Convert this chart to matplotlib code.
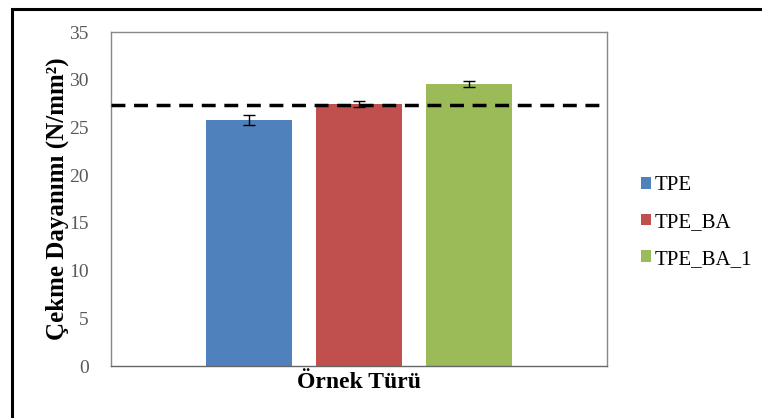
import numpy as np
import matplotlib.pyplot as plt
from matplotlib.patches import Rectangle

# === DATA ===
samples = ["TPE", "TPE_BA", "TPE_BA_1"]
strength = [25.8, 27.45, 29.55]
err = [0.55, 0.3, 0.3]
colors = ["#4f81bd", "#c0504d", "#9bbb59"]
ref_line = 27.4
yticks = [0, 5, 10, 15, 20, 25, 30, 35]

plt.rcParams["font.family"] = ["Liberation Serif", "DejaVu Serif"]

fig = plt.figure(figsize=(7.62, 4.18), dpi=100)
ax = fig.add_axes([0.1457, 0.1244, 0.651, 0.799])

x = np.arange(len(samples)) - 1
for xi, v, e, c, lab in zip(x, strength, err, colors, samples):
    ax.bar(xi, v, width=0.78, color=c, label=lab, zorder=2)
    ax.errorbar(xi, v, yerr=e, fmt="none", ecolor="black", elinewidth=1,
                capsize=4, capthick=1, zorder=3)

ax.axhline(ref_line, color="black", linestyle=(0, (4, 2.5)), linewidth=2.5, zorder=4)

ax.set_xlim(-2.255, 2.255)
ax.set_ylim(0, 35)
ax.set_yticks(yticks)
ax.set_xticks([])
ax.tick_params(axis="y", length=0, labelsize=14, labelcolor="#595959", pad=16)
for s in ax.spines.values():
    s.set_color("#888888")
    s.set_linewidth(1)
ax.spines["bottom"].set_color("#666666")

ax.set_ylabel("Çekme Dayanımı (N/mm²)", fontsize=18, fontweight="bold", labelpad=0)
ax.set_xlabel("Örnek Türü", fontsize=17, fontweight="bold", labelpad=4)

ax.legend(loc="center left", bbox_to_anchor=(1.03, 0.43), frameon=False,
          fontsize=15, handlelength=0.5, handleheight=0.5, handletextpad=0.15,
          labelspacing=0.85)

# outer frame
fig.patches.append(Rectangle((12 / 762, -0.05), 1.1, 1 - 9 / 418 + 0.05,
                             transform=fig.transFigure, fill=False,
                             edgecolor="black", linewidth=2.2))

fig.savefig("out.png", dpi=100)
